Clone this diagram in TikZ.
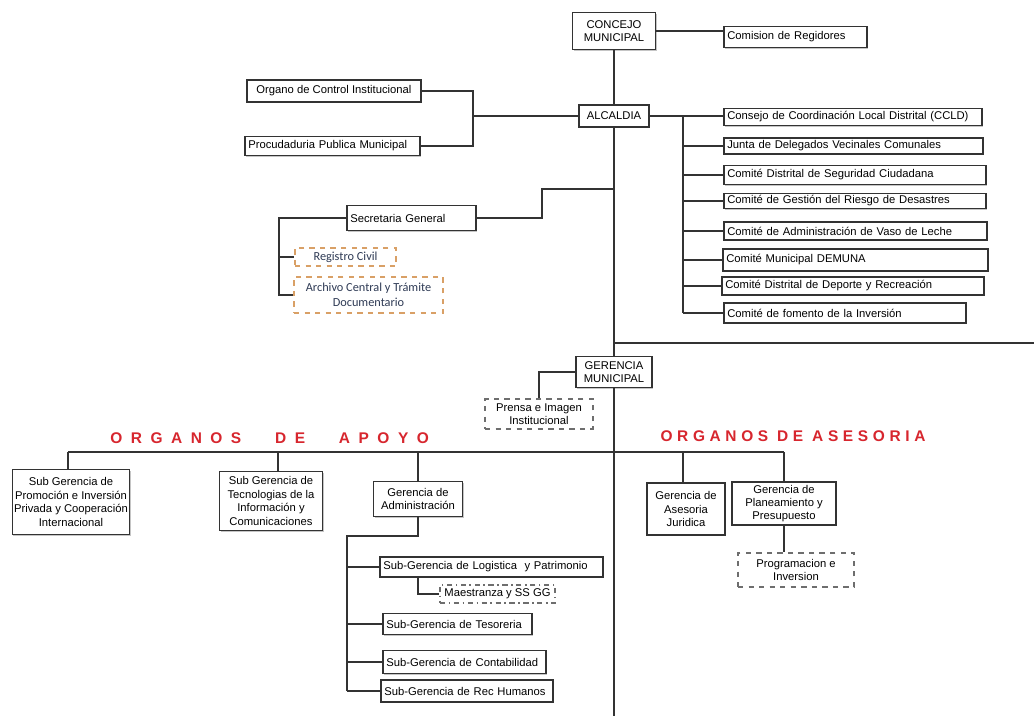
\documentclass[tikz,border=0pt]{standalone}
\usepackage{fontspec}
\setmainfont{Liberation Sans}
\newfontfamily\calfont{Carlito}
\newfontfamily\apoyofont[LetterSpace=55]{Liberation Sans}
\newfontfamily\asesfont[LetterSpace=30]{Liberation Sans}
\usetikzlibrary{positioning,calc,shadows}
\definecolor{cLine}{HTML}{333333}
\definecolor{cRed}{HTML}{D7262E}
\definecolor{cOrange}{HTML}{D9A066}
\definecolor{cDash}{HTML}{6E6E6E}
\definecolor{cInk}{HTML}{2F3B55}
\tikzset{
  base/.style  = {rectangle, draw=cLine, line width=0.9pt, fill=white, align=center,
                  inner sep=1pt, font=\fontsize{6.4}{7.6}\selectfont},
  box/.style   = {base, drop shadow={shadow xshift=0.6pt, shadow yshift=-0.6pt, fill=black!45}},
  lst/.style   = {box, align=left, text width=#1, inner xsep=2pt, anchor=west},
  org/.style   = {base, draw=cOrange, line width=1.1pt, dashed, text=cInk,
                  font=\calfont\fontsize{7}{8.4}\selectfont},
  dsh/.style   = {base, draw=cDash, dashed},
  ln/.style    = {draw=cLine, line width=1pt},
  ttl/.style   = {text=cRed, font=\bfseries\fontsize{8.8}{10}\selectfont, inner sep=0pt},
}
\begin{document}
\begin{tikzpicture}[x=0.02cm, y=-0.02cm]
  \useasboundingbox[fill=white] (0,0) rectangle (1034,716);

  % alcaldia and its top
  \node[box, minimum width=1.66cm, minimum height=0.74cm] (concejo) at (614,31) {CONCEJO\\MUNICIPAL};
  \node[lst=2.72cm, minimum height=0.42cm] (comision) at (723,37) {Comision de Regidores};
  \node[box, minimum width=1.40cm, minimum height=0.44cm] (alcaldia) at (614,116) {ALCALDIA};
  \node[box, minimum width=3.48cm, minimum height=0.44cm] (organo) at (334,91) {Organo de Control Institucional};
  \node[lst=3.36cm, minimum height=0.38cm] (procu) at (244,146) {Procudaduria Publica Municipal};

  % comites
  \node[lst=5.02cm, minimum height=0.34cm] (c1) at (723,117) {Consejo de Coordinación Local Distrital (CCLD)};
  \node[lst=5.04cm, minimum height=0.32cm] (c2) at (723,146) {Junta de Delegados Vecinales Comunales};
  \node[lst=5.10cm, minimum height=0.38cm] (c3) at (723,175) {Comité Distrital de Seguridad Ciudadana};
  \node[lst=5.10cm, minimum height=0.30cm] (c4) at (723,201) {Comité de Gestión del Riesgo de Desastres};
  \node[lst=5.12cm, minimum height=0.36cm] (c5) at (723,231) {Comité de Administración de Vaso de Leche};
  \node[lst=5.16cm, minimum height=0.44cm] (c6) at (722,260) {Comité Municipal DEMUNA};
  \node[lst=5.10cm, minimum height=0.36cm] (c7) at (721,286) {Comité Distrital de Deporte y Recreación};
  \node[lst=4.70cm, minimum height=0.40cm] (c8) at (723,313) {Comité de fomento de la Inversión};

  % secretaria
  \node[lst=2.44cm, minimum height=0.50cm] (secret) at (346,218) {Secretaria General\\[3pt]};
  \node[org, minimum width=2.02cm, minimum height=0.36cm] (registro) at (345.5,257) {Registro Civil};
  \node[org, minimum width=2.98cm, minimum height=0.72cm] (archivo) at (368.5,295) {Archivo Central y Trámite\\Documentario};

  % gerencia
  \node[box, minimum width=1.52cm, minimum height=0.62cm] (gerencia) at (614,372) {GERENCIA\\MUNICIPAL};
  \node[dsh, minimum width=2.16cm, minimum height=0.60cm] (prensa) at (539,414) {Prensa e Imagen\\Institucional};

  \node[ttl, anchor=west] (apoyo) at (110,438) {\apoyofont ORGANOS\hspace{12pt} DE\hspace{12pt} APOYO};
  \node[ttl] (asesor) at (793,436) {\asesfont ORGANOS DE ASESORIA};

  % organos de apoyo
  \node[box, minimum width=2.32cm, minimum height=1.30cm] (promo) at (71,502) {Sub Gerencia de\\Promoción e Inversión\\Privada y Cooperación\\Internacional};
  \node[box, minimum width=2.06cm, minimum height=1.18cm] (tecno) at (271,501) {Sub Gerencia de\\Tecnologias de la\\Información y\\Comunicaciones};
  \node[box, minimum width=1.78cm, minimum height=0.70cm] (admin) at (418,499) {Gerencia de\\Administración};
  \node[lst=4.32cm, minimum height=0.40cm] (logis) at (379,567) {Sub-Gerencia de Logistica\ \ y Patrimonio};
  \node[dsh, dash dot, minimum width=2.30cm, minimum height=0.36cm] (maest) at (497.5,594) {Maestranza y SS GG};
  \node[lst=2.84cm, minimum height=0.42cm] (teso) at (382,624) {Sub-Gerencia de Tesoreria};
  \node[lst=3.12cm, minimum height=0.46cm] (conta) at (382,662) {Sub-Gerencia de Contabilidad};
  \node[lst=3.30cm, minimum height=0.44cm] (rrhh) at (380,691) {Sub-Gerencia de Rec Humanos};

  % organos de asesoria
  \node[box, minimum width=1.56cm, minimum height=1.04cm] (juridica) at (686,509) {Gerencia de\\Asesoria\\Juridica};
  \node[box, minimum width=2.08cm, minimum height=0.86cm] (planea) at (784,503.5) {Gerencia de\\Planeamiento y\\Presupuesto};
  \node[dsh, minimum width=2.32cm, minimum height=0.68cm] (program) at (796,570) {Programacion e\\Inversion};

  \coordinate (bk) at (473,116);
  \coordinate (bus) at (683,116);
  \coordinate (sgr) at (542,189);
  \coordinate (sgl) at (279,218);
  \coordinate (rgt) at (1034,343);
  \coordinate (bottom) at (614,716);
  \coordinate (bL) at (68,452);
  \coordinate (bR) at (784,452);
  \coordinate (ab) at (347,536);

  % eje central
  \draw[ln] (concejo.south) -- (alcaldia.north);
  \draw[ln] (alcaldia.south) -- (gerencia.north);
  \draw[ln] (gerencia.south) -- (bottom);
  \draw[ln] (rgt -| alcaldia.south) -- (rgt);
  \draw[ln] (concejo.east) -- (concejo.east -| comision.west);

  \draw[ln] (alcaldia.west) -- (bk);
  \draw[ln] (organo.east) -| (bk |- procu.east) -- (procu.east);

  \draw[ln] (alcaldia.east) -- (alcaldia.east -| c1.west);
  \draw[ln] (bus) -- (bus |- c8.west);
  \foreach \c in {c2,c3,c4,c5,c6,c7,c8}
    \draw[ln] (bus |- \c.west) -- (\c.west);

  \draw[ln] (secret.east) -| (sgr) -- (sgr -| alcaldia.south);
  \draw[ln] (secret.west) -- (sgl) |- (archivo.west);
  \draw[ln] (sgl |- registro.west) -- (registro.west);

  \draw[ln] (gerencia.west) -| (prensa.north);

  % barra de organos
  \draw[ln] (bL) -- (bR);
  \draw[ln] (bL) -- (bL |- promo.north);
  \draw[ln] (278,452) -- (278,0 |- tecno.north);
  \draw[ln] (bL -| admin.north) -- (admin.north);
  \draw[ln] (683,452) -- (683,0 |- juridica.north);
  \draw[ln] (bR) -- (bR |- planea.north);
  \draw[ln] (planea.south) -- (planea.south |- program.north);

  \draw[ln] (admin.south) |- (ab) -- (ab |- rrhh.west);
  \foreach \s in {logis,teso,conta,rrhh}
    \draw[ln] (ab |- \s.west) -- (\s.west);
  \draw[ln] (logis.south -| admin.south) |- (maest.west);
\end{tikzpicture}
\end{document}
